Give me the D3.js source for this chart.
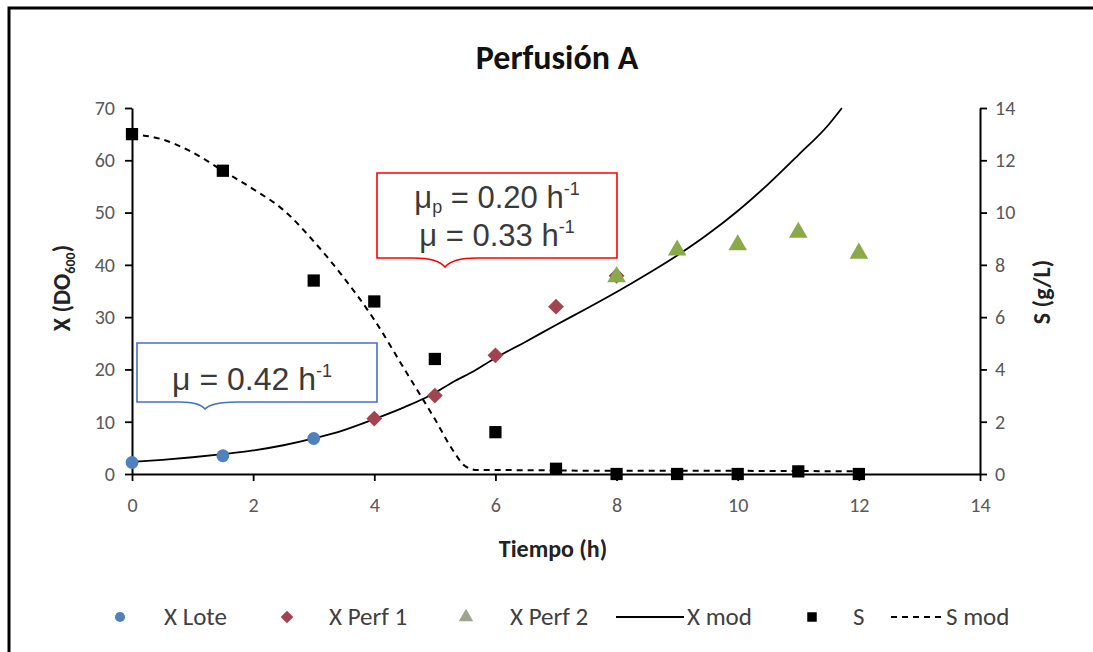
<!DOCTYPE html>
<html><head><meta charset="utf-8">
<script src="https://cdn.jsdelivr.net/npm/d3@7"></script>
<style>html,body{margin:0;padding:0;background:#fff;overflow:hidden}svg{display:block}</style>
</head><body>
<svg id="c" width="1093" height="652"></svg>
<script>
// ---- data ----
const tLote = [0, 1.5, 3];
const xLote = [2.2, 3.5, 6.8];
const tPerf1 = [4, 5, 6, 7, 8];
const xPerf1 = [10.6, 15.0, 22.7, 32.0, 37.9];
const tPerf2 = [8, 9, 10, 11, 12];
const xPerf2 = [37.9, 43.0, 44.0, 46.4, 42.4];
const tXmod = [0, 0.5, 1, 1.5, 2, 2.5, 3, 3.5, 4, 4.5, 5, 5.3, 5.6, 6, 6.5, 7, 7.5, 8, 8.5, 9, 9.5, 10, 10.5, 11, 11.5, 11.72];
const xXmod = [2.3, 2.7, 3.2, 3.8, 4.5, 5.5, 6.8, 8.4, 10.5, 12.8, 15.5, 17.6, 19.4, 22.2, 25.3, 28.5, 31.6, 34.8, 38.2, 41.8, 45.8, 50.3, 55.4, 61.0, 66.8, 70.0];
const tS = [0, 1.5, 3, 4, 5, 6, 7, 8, 9, 10, 11, 12];
const sVals = [13.0, 11.6, 7.4, 6.6, 4.4, 1.6, 0.2, 0.0, 0.0, 0.0, 0.1, 0.0];
const tSmod = [0, 0.5, 1, 1.5, 2, 2.5, 3, 3.5, 4, 4.5, 5, 5.3, 5.5, 5.7, 6, 8, 10, 12];
const sSmod = [13.0, 12.8, 12.3, 11.6, 10.9, 10.1, 8.9, 7.5, 5.9, 4.0, 2.1, 0.9, 0.3, 0.15, 0.15, 0.12, 0.12, 0.1];
const xTicks = [0, 2, 4, 6, 8, 10, 12, 14];
const yLTicks = [0, 10, 20, 30, 40, 50, 60, 70];
const yRTicks = [0, 2, 4, 6, 8, 10, 12, 14];
const legendLabels = ["X Lote", "X Perf 1", "X Perf 2", "X mod", "S", "S mod"];

// ---- setup ----
const svg = d3.select("#c");
const F = "Carlito, Lato, 'Open Sans', sans-serif";
const x = d3.scaleLinear().domain([0, 14]).range([132, 980]);
const yL = d3.scaleLinear().domain([0, 70]).range([474, 108]);
const yR = d3.scaleLinear().domain([0, 14]).range([474, 108]);

// outer frame (open on the right and bottom, outside the picture)
svg.append("rect").attr("x", 9).attr("y", 8).attr("width", 1300).attr("height", 900)
  .attr("fill", "none").attr("stroke", "#000").attr("stroke-width", 3);

// title
svg.append("text").attr("x", 557).attr("y", 69).attr("text-anchor", "middle")
  .attr("font-family", F).attr("font-weight", "bold").attr("font-size", 34).attr("fill", "#111")
  .text("Perfusión A");

function styleAxis(g) {
  g.select(".domain").attr("stroke", "#000").attr("stroke-width", 2);
  g.selectAll(".tick line").attr("stroke", "#000").attr("stroke-width", 1.8);
  g.selectAll(".tick text").attr("font-family", F).attr("font-size", 20).attr("fill", "#595959");
}
const gx = svg.append("g").attr("transform", "translate(0,474)")
  .call(d3.axisBottom(x).tickValues(xTicks).tickSize(7).tickSizeOuter(0).tickPadding(17));
styleAxis(gx);
const gl = svg.append("g").attr("transform", "translate(132,0)")
  .call(d3.axisLeft(yL).tickValues(yLTicks).tickSize(7).tickSizeOuter(0).tickPadding(10));
styleAxis(gl);
const gr = svg.append("g").attr("transform", "translate(980,0)")
  .call(d3.axisRight(yR).tickValues(yRTicks).tickSize(7).tickSizeOuter(0).tickPadding(8));
styleAxis(gr);

// axis labels
svg.append("text").attr("x", 553).attr("y", 557).attr("text-anchor", "middle")
  .attr("font-family", F).attr("font-weight", "bold").attr("font-size", 24).attr("fill", "#222")
  .text("Tiempo (h)");
const yl = svg.append("text").attr("transform", "translate(70,288) rotate(-90)").attr("text-anchor", "middle")
  .attr("font-family", F).attr("font-weight", "bold").attr("font-size", 24).attr("fill", "#222");
yl.append("tspan").text("X (DO");
yl.append("tspan").attr("font-size", 14).attr("dy", 5).text("600");
yl.append("tspan").attr("dy", -5).text(")");
svg.append("text").attr("transform", "translate(1050,292) rotate(-90)").attr("text-anchor", "middle")
  .attr("font-family", F).attr("font-weight", "bold").attr("font-size", 24).attr("fill", "#222")
  .text("S (g/L)");

// lines
const lineX = d3.line().x(d => x(d[0])).y(d => yL(d[1])).curve(d3.curveMonotoneX);
const lineS = d3.line().x(d => x(d[0])).y(d => yR(d[1])).curve(d3.curveMonotoneX);
svg.append("path").datum(d3.zip(tSmod, sSmod)).attr("d", lineS)
  .attr("fill", "none").attr("stroke", "#000").attr("stroke-width", 2).attr("stroke-dasharray", "6,5");
svg.append("path").datum(d3.zip(tXmod, xXmod)).attr("d", lineX)
  .attr("fill", "none").attr("stroke", "#000").attr("stroke-width", 1.8);

// markers
const cLote = "#4F81BD", cP1 = "#A3434F", cP2 = "#8AAA4A";
const symCircle = d3.symbol().type(d3.symbolCircle).size(130);
const symDiam = d3.symbol().type(d3.symbolSquare).size(125);
const symTri = d3.symbol().type(d3.symbolTriangle).size(150);
const symSq = d3.symbol().type(d3.symbolSquare).size(150);

svg.append("g").selectAll("path").data(d3.zip(tS, sVals)).join("path")
  .attr("d", symSq).attr("fill", "#000")
  .attr("transform", d => `translate(${x(d[0])},${yR(d[1])})`);
svg.append("g").selectAll("path").data(d3.zip(tLote, xLote)).join("path")
  .attr("d", symCircle).attr("fill", cLote)
  .attr("transform", d => `translate(${x(d[0])},${yL(d[1])})`);
svg.append("g").selectAll("path").data(d3.zip(tPerf1, xPerf1)).join("path")
  .attr("d", symDiam).attr("fill", cP1)
  .attr("transform", d => `translate(${x(d[0])},${yL(d[1])}) rotate(45)`);
svg.append("g").selectAll("path").data(d3.zip(tPerf2, xPerf2)).join("path")
  .attr("d", symTri).attr("fill", cP2)
  .attr("transform", d => `translate(${x(d[0])},${yL(d[1]) + 1})`);

// callouts
const CF = "'Liberation Sans', Arial, sans-serif";
svg.append("path")
  .attr("d", "M137,343 H377 V402 H237 Q212,402 205,409 Q199,402 180,402 H137 Z")
  .attr("fill", "#fff").attr("stroke", "#4472C4").attr("stroke-width", 1.6);
const t1 = svg.append("text").attr("x", 252).attr("y", 390).attr("text-anchor", "middle")
  .attr("font-family", CF).attr("font-size", 32).attr("fill", "#3a3a3a");
t1.append("tspan").text("μ = 0.42 h");
t1.append("tspan").attr("font-size", 18).attr("dy", -13).text("-1");

svg.append("path")
  .attr("d", "M377,173 H617 V258 H477 Q452,258 445,267 Q438,258 413,258 H377 Z")
  .attr("fill", "#fff").attr("stroke", "#FF0000").attr("stroke-width", 1.6);
const t2 = svg.append("text").attr("x", 497).attr("y", 208).attr("text-anchor", "middle")
  .attr("font-family", CF).attr("font-size", 31).attr("fill", "#3a3a3a");
t2.append("tspan").text("μ");
t2.append("tspan").attr("font-size", 18).attr("dy", 5).text("p");
t2.append("tspan").attr("dy", -5).text(" = 0.20 h");
t2.append("tspan").attr("font-size", 18).attr("dy", -13).text("-1");
const t3 = svg.append("text").attr("x", 497).attr("y", 246).attr("text-anchor", "middle")
  .attr("font-family", CF).attr("font-size", 31).attr("fill", "#3a3a3a");
t3.append("tspan").text("μ = 0.33 h");
t3.append("tspan").attr("font-size", 18).attr("dy", -13).text("-1");

// legend
const ly = 617;
const lg = svg.append("g").attr("font-family", F).attr("font-size", 25).attr("fill", "#404040");
const legendItems = [
  {label: legendLabels[0], kind: "circle", color: cLote, mx: 120, tx: 164},
  {label: legendLabels[1], kind: "diamond", color: cP1, mx: 287, tx: 329},
  {label: legendLabels[2], kind: "tri", color: "#9CA68C", mx: 466, tx: 510},
  {label: legendLabels[3], kind: "line", color: "#000", mx: 616, tx: 687},
  {label: legendLabels[4], kind: "square", color: "#000", mx: 812, tx: 853},
  {label: legendLabels[5], kind: "dash", color: "#000", mx: 891, tx: 946}
];
legendItems.forEach(it => {
  if (it.kind === "circle") lg.append("path").attr("d", d3.symbol().type(d3.symbolCircle).size(80)()).attr("fill", it.color).attr("transform", `translate(${it.mx},${ly})`);
  if (it.kind === "diamond") lg.append("path").attr("d", d3.symbol().type(d3.symbolSquare).size(80)()).attr("fill", it.color).attr("transform", `translate(${it.mx},${ly}) rotate(45)`);
  if (it.kind === "tri") lg.append("path").attr("d", d3.symbol().type(d3.symbolTriangle).size(90)()).attr("fill", it.color).attr("transform", `translate(${it.mx},${ly})`);
  if (it.kind === "square") lg.append("path").attr("d", d3.symbol().type(d3.symbolSquare).size(90)()).attr("fill", it.color).attr("transform", `translate(${it.mx},${ly})`);
  if (it.kind === "line") lg.append("line").attr("x1", it.mx).attr("x2", it.mx + 68).attr("y1", ly).attr("y2", ly).attr("stroke", "#000").attr("stroke-width", 2);
  if (it.kind === "dash") lg.append("line").attr("x1", it.mx).attr("x2", it.mx + 50).attr("y1", ly).attr("y2", ly).attr("stroke", "#000").attr("stroke-width", 2).attr("stroke-dasharray", "6,5");
  lg.append("text").attr("x", it.tx).attr("y", ly + 8).text(it.label);
});
</script>
</body></html>
